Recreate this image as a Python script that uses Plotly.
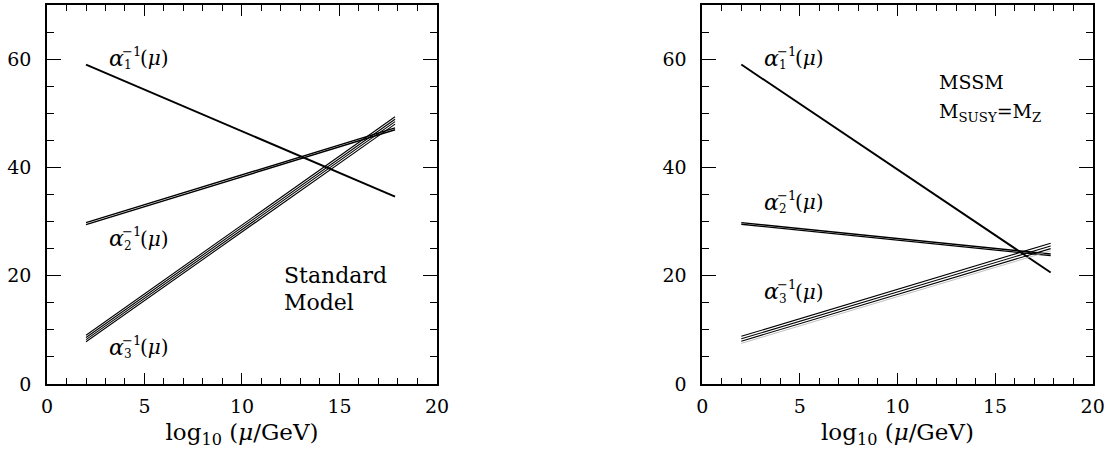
import plotly.graph_objects as go

# ---------------- data ----------------
log_mu = [2.0, 17.85]

sm_a1 = [[59.0, 34.6]]
sm_a2 = [[29.45, 46.95], [29.8, 47.3]]
sm_a3 = [[7.8, 48.0], [8.2, 48.45], [8.6, 48.9], [9.0, 49.35]]

mssm_a1 = [[59.0, 20.6]]
mssm_a2 = [[29.5, 23.7], [29.8, 24.0]]
mssm_a3 = [[7.9, 25.0], [8.35, 25.5], [8.8, 26.0]]
mssm_a3_faint = [[7.5, 24.6]]

x_ticks = [0, 5, 10, 15, 20]
y_ticks = [0, 20, 40, 60]

# label anchor points (data coords)
sm_labels = [("1", 3.08, 60.2), ("2", 3.08, 26.8), ("3", 3.08, 6.8)]
mssm_labels = [("1", 3.06, 60.2), ("2", 3.06, 33.6), ("3", 3.06, 17.0)]

FONT = "DejaVu Serif"

fig = go.Figure()


def add_lines(series, xa, ya, width=1.2, color="black"):
    for ys in series:
        fig.add_trace(go.Scatter(x=log_mu, y=ys, mode="lines", xaxis=xa, yaxis=ya,
                                 line=dict(color=color, width=width),
                                 showlegend=False, hoverinfo="skip"))


add_lines(sm_a1, "x", "y", width=1.9)
add_lines(sm_a2, "x", "y", width=1.4)
add_lines(sm_a3, "x", "y", width=1.1)
add_lines(mssm_a1, "x2", "y2", width=1.9)
add_lines(mssm_a2, "x2", "y2", width=1.4)
add_lines(mssm_a3_faint, "x2", "y2", width=0.8, color="#b0b0b0")
add_lines(mssm_a3, "x2", "y2", width=1.1)

annotations = []


def alpha_label(idx, x, y, xref, yref):
    base = dict(x=x, y=y, xref=xref, yref=yref, showarrow=False,
                xanchor="left", yanchor="middle")
    annotations.append(dict(base, text="<i>α</i>", font=dict(family=FONT, size=22, color="black")))
    annotations.append(dict(base, text="−1", xshift=13, yshift=7,
                            font=dict(family=FONT, size=13, color="black")))
    annotations.append(dict(base, text=idx, xshift=15, yshift=-7,
                            font=dict(family=FONT, size=12, color="black")))
    annotations.append(dict(base, text="(<i>μ</i>)", xshift=31,
                            font=dict(family=FONT, size=20, color="black")))


for idx, x, y in sm_labels:
    alpha_label(idx, x, y, "x", "y")
for idx, x, y in mssm_labels:
    alpha_label(idx, x, y, "x2", "y2")

annotations.append(dict(x=12.05, y=20.1, xref="x", yref="y", text="Standard", showarrow=False,
                        xanchor="left", yanchor="middle", font=dict(family=FONT, size=22, color="black")))
annotations.append(dict(x=12.05, y=15.0, xref="x", yref="y", text="Model", showarrow=False,
                        xanchor="left", yanchor="middle", font=dict(family=FONT, size=22, color="black")))
annotations.append(dict(x=12.05, y=55.8, xref="x2", yref="y2", text="MSSM", showarrow=False,
                        xanchor="left", yanchor="middle", font=dict(family=FONT, size=19, color="black")))
annotations.append(dict(x=12.05, y=50.2, xref="x2", yref="y2",
                        text="M<sub>SUSY</sub>=M<sub>Z</sub>", showarrow=False,
                        xanchor="left", yanchor="middle", font=dict(family=FONT, size=19, color="black")))

xcommon = dict(range=[0, 20], tickmode="array", tickvals=x_ticks,
               ticks="inside", ticklen=11, tickwidth=1.3, tickcolor="black",
               minor=dict(dtick=1, ticks="inside", ticklen=6, tickwidth=1.1, tickcolor="black"),
               showline=True, linecolor="black", linewidth=1.6, mirror="allticks",
               showgrid=False, zeroline=False, automargin=False, ticklabelstandoff=4,
               tickfont=dict(family=FONT, size=19, color="black"),
               title=dict(text="log<sub>10</sub> (<i>μ</i>/GeV)",
                          font=dict(family=FONT, size=23, color="black"), standoff=8))
ycommon = dict(range=[0, 70], tickmode="array", tickvals=y_ticks,
               ticks="inside", ticklen=14, tickwidth=1.3, tickcolor="black",
               minor=dict(dtick=5, ticks="inside", ticklen=7, tickwidth=1.1, tickcolor="black"),
               showline=True, linecolor="black", linewidth=1.6, mirror="allticks",
               showgrid=False, zeroline=False, automargin=False, ticklabelstandoff=10,
               tickfont=dict(family=FONT, size=19, color="black"))

fig.update_layout(
    width=1112, height=454,
    margin=dict(l=40, r=10, t=4, b=70),
    paper_bgcolor="white", plot_bgcolor="white",
    xaxis=dict(xcommon, domain=[0.0066, 0.3738], anchor="y"),
    yaxis=dict(ycommon, domain=[0.0, 0.9974], anchor="x"),
    xaxis2=dict(xcommon, domain=[0.6236, 0.9912], anchor="y2"),
    yaxis2=dict(ycommon, domain=[0.0, 0.9974], anchor="x2"),
    annotations=annotations,
    showlegend=False,
)

fig.write_html("out.html", config={"displayModeBar": False},
               post_script="document.body.style.margin='0';")
